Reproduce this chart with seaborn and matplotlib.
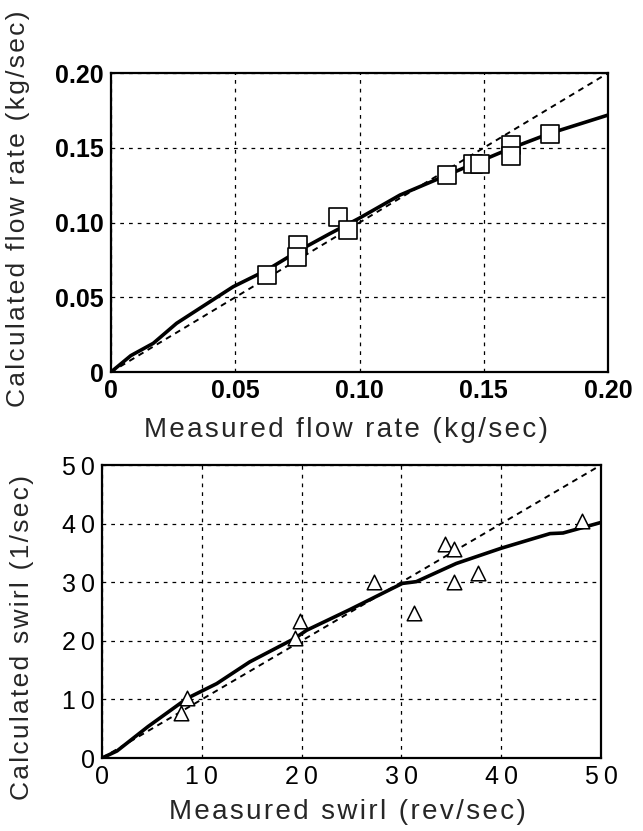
"""
Calculated vs measured flow rate and swirl, two stacked panels.
"""

import numpy as np
import pandas as pd
import matplotlib
matplotlib.use("Agg")
import matplotlib.pyplot as plt
import seaborn as sns

# === Data ===

# Flow rate panel (kg/sec): measured points
flow_meas = [0.0627, 0.0754, 0.0747, 0.0915, 0.0955, 0.1353, 0.1458, 0.1485, 0.1608, 0.1608, 0.1767]
flow_calc = [0.0649, 0.0849, 0.0771, 0.1035, 0.0950, 0.1318, 0.1390, 0.1390, 0.1518, 0.1447, 0.1590]

# Flow rate panel: model curve
flow_curve_x = [0.0, 0.008, 0.017, 0.0264, 0.0370, 0.0492, 0.0627, 0.0760, 0.0880, 0.0998, 0.1163, 0.1353, 0.1496, 0.1608, 0.1767, 0.2000]
flow_curve_y = [0.0, 0.0110, 0.0192, 0.0326, 0.0440, 0.0571, 0.0682, 0.0816, 0.0925, 0.1028, 0.1184, 0.1318, 0.1418, 0.1496, 0.1597, 0.1719]

# Swirl panel (rev/sec vs 1/sec): measured points
swirl_meas = [7.93, 8.55, 19.3, 19.8, 27.3, 31.3, 34.4, 35.3, 35.3, 37.7, 48.1]
swirl_calc = [7.63, 10.2, 20.4, 23.3, 30.1, 24.7, 36.6, 35.7, 30.1, 31.5, 40.5]

# Swirl panel: model curve
swirl_curve_x = [0.0, 1.5, 4.6, 8.55, 11.5, 14.8, 19.3, 20.5, 24.8, 30.1, 31.5, 35.5, 40.0, 44.9, 46.2, 50.0]
swirl_curve_y = [0.0, 1.2, 5.35, 10.2, 12.7, 16.4, 20.4, 21.8, 25.3, 29.8, 30.1, 33.2, 35.8, 38.3, 38.4, 40.2]

flow_ticks = [0, 0.05, 0.10, 0.15, 0.20]
flow_ticklabels = ["0", "0.05", "0.10", "0.15", "0.20"]
swirl_ticks = [0, 10, 20, 30, 40, 50]
swirl_ticklabels = ["0", "10", "20", "30", "40", "50"]

# === Style ===

sns.set_style("white")
plt.rcParams["font.family"] = ["Liberation Sans", "DejaVu Sans"]

fig = plt.figure(figsize=(6.43, 8.31), dpi=100)
ax1 = fig.add_axes([0.1726, 0.5523, 0.773, 0.3598])
ax2 = fig.add_axes([0.1586, 0.0878, 0.776, 0.3526])


def spaced(text, gap="\u200a"):
    # the original typesetting has wide letter spacing
    return gap.join(text)


def style_axes(ax, ticks, ticklabels, lim, xlabel, ylabel, bold_ticks, xlab_pos, ylab_pos):
    ax.set_xlim(0, lim)
    ax.set_ylim(0, lim)
    ax.set_xticks(ticks)
    ax.set_yticks(ticks)
    weight = "bold" if bold_ticks else "normal"
    labels = ticklabels if bold_ticks else [spaced(t, "\u2009") for t in ticklabels]
    ax.set_xticklabels(labels, fontsize=18, fontweight=weight)
    ax.set_yticklabels(labels, fontsize=18, fontweight=weight)
    ax.tick_params(length=0, pad=5, colors="black")
    ax.grid(True, color="black", linestyle=(0, (3, 4)), linewidth=0.9)
    ax.set_axisbelow(True)
    for s in ax.spines.values():
        s.set_color("black")
        s.set_linewidth(1.6)
    ax.set_xlabel(spaced(xlabel), fontsize=20, va="center")
    ax.set_ylabel(spaced(ylabel), fontsize=19, va="center")
    ax.xaxis.set_label_coords(*xlab_pos)
    ax.yaxis.set_label_coords(*ylab_pos)


# === Top panel: flow rate ===

sns.lineplot(x=[0, 0.2], y=[0, 0.2], ax=ax1, color="black", linestyle=(0, (3, 2.5)), linewidth=1.4)
sns.lineplot(x=flow_curve_x, y=flow_curve_y, ax=ax1, color="black", linewidth=2.6, sort=False)
sns.scatterplot(x=flow_meas, y=flow_calc, ax=ax1, marker="s", s=170,
                facecolor="white", edgecolor="black", linewidth=1.2, zorder=5)
style_axes(ax1, flow_ticks, flow_ticklabels, 0.2,
           "Measured flow rate (kg/sec)", "Calculated flow rate (kg/sec)", True,
           (0.473, -0.194), (-0.187, 0.545))

# === Bottom panel: swirl ===

sns.lineplot(x=[0, 50], y=[0, 50], ax=ax2, color="black", linestyle=(0, (3, 2.5)), linewidth=1.4)
sns.lineplot(x=swirl_curve_x, y=swirl_curve_y, ax=ax2, color="black", linewidth=2.6, sort=False)
sns.scatterplot(x=swirl_meas, y=swirl_calc, ax=ax2, marker="^", s=110,
                facecolor="white", edgecolor="black", linewidth=1.1, zorder=5)
style_axes(ax2, swirl_ticks, swirl_ticklabels, 50,
           "Measured swirl (rev/sec)", "Calculated swirl (1/sec)", False,
           (0.491, -0.185), (-0.160, 0.413))

fig.savefig("out.png", dpi=100)
